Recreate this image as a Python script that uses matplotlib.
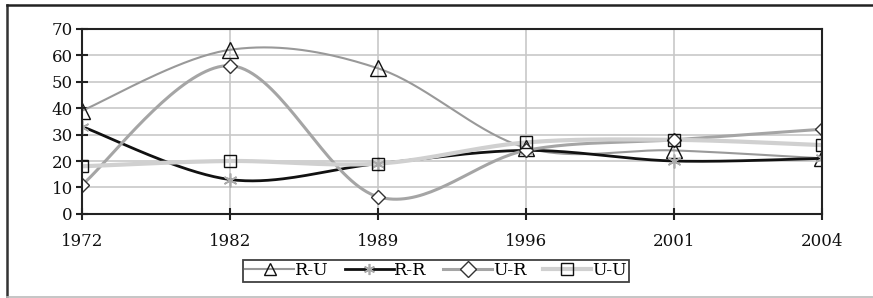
import numpy as np
import matplotlib
matplotlib.use("Agg")
import matplotlib.pyplot as plt
from matplotlib.lines import Line2D

years = ["1972", "1982", "1989", "1996", "2001", "2004"]
r_u = [39, 62, 55, 25, 24, 21]
r_r = [33, 13, 19, 24, 20, 21]
u_r = [11, 56, 6.5, 24, 28, 32]
u_u = [18, 20, 19, 27, 28, 26]

plt.rcParams['font.family'] = ['DejaVu Serif']


def smooth(xs, ys, n=40):
    xs = np.asarray(xs, float)
    ys = np.asarray(ys, float)
    px = np.concatenate([[xs[0]], xs, [xs[-1]]])
    py = np.concatenate([[ys[0]], ys, [ys[-1]]])
    ox, oy = [], []
    t = np.linspace(0, 1, n)
    for i in range(1, len(px) - 2):
        p0 = np.array([px[i], py[i]])
        p3 = np.array([px[i + 1], py[i + 1]])
        c1 = p0 + (np.array([px[i + 1], py[i + 1]]) - np.array([px[i - 1], py[i - 1]])) / 6
        c2 = p3 - (np.array([px[i + 2], py[i + 2]]) - np.array([px[i], py[i]])) / 6
        b = ((1 - t) ** 3)[:, None] * p0 + (3 * (1 - t) ** 2 * t)[:, None] * c1 + \
            (3 * (1 - t) * t ** 2)[:, None] * c2 + (t ** 3)[:, None] * p3
        ox.extend(b[:, 0]); oy.extend(b[:, 1])
    return np.array(ox), np.array(oy)


fig = plt.figure(figsize=(8.73, 2.98), dpi=100)
ax = fig.add_axes([0.0939, 0.282, 0.8477, 0.622])
x = np.arange(len(years))

series = [
    ("R-U", r_u, dict(color="#999999", lw=1.5), dict(marker="^", ms=11, mfc="none", mec="#111111", mew=1.0)),
    ("R-R", r_r, dict(color="#111111", lw=2.0), dict(marker=(6, 2, 0), ms=10, mfc="none", mec="#aaaaaa", mew=1.2)),
    ("U-R", u_r, dict(color="#a5a5a5", lw=2.2), dict(marker="D", ms=7, mfc="white", mec="#333333", mew=1.0)),
    ("U-U", u_u, dict(color="#d0d0d0", lw=3.0), dict(marker="s", ms=9, mfc="none", mec="#111111", mew=1.0)),
]

handles = []
for name, vals, lstyle, mstyle in series:
    sx, sy = smooth(x, vals)
    ax.plot(sx, sy, zorder=3, solid_capstyle="round", **lstyle)
for name, vals, lstyle, mstyle in series:
    ax.plot(x, vals, ls="none", zorder=4, **mstyle)
    handles.append(Line2D([], [], label=name, **lstyle, **mstyle))

ax.set_xlim(0, len(years) - 1)
ax.set_ylim(0, 70)
ax.set_yticks(range(0, 71, 10))
ax.set_xticks(x)
ax.set_xticklabels(years)
ax.grid(True, color="#c8c8c8", lw=1.2, zorder=1)
ax.set_axisbelow(True)
for s in ax.spines.values():
    s.set_color("#222222")
    s.set_linewidth(1.5)
    s.set_zorder(5)
ax.tick_params(axis="both", direction="inout", length=9, width=1.5, color="#222222",
               labelsize=12, labelcolor="#111111")
ax.tick_params(axis="y", pad=2)
ax.tick_params(axis="x", pad=9)

leg = fig.legend(handles=handles, loc="center", bbox_to_anchor=(0.4995, 0.092), ncol=4,
                 frameon=True, fancybox=False, fontsize=12.5, handlelength=2.8,
                 handletextpad=0.05, columnspacing=0.95, borderpad=0.14, edgecolor="#111111")
leg.get_frame().set_linewidth(1.3)
for h in leg.legend_handles:
    h.set_markersize(8)

fig.add_artist(Line2D([0.0075, 0.0075], [0.005, 0.983], transform=fig.transFigure, color="#333333", lw=1.8))
fig.add_artist(Line2D([0.0075, 1.0], [0.983, 0.983], transform=fig.transFigure, color="#222222", lw=1.8))
fig.add_artist(Line2D([0.0075, 1.0], [0.005, 0.005], transform=fig.transFigure, color="#bbbbbb", lw=1.2))

fig.savefig("out.png", dpi=100)
